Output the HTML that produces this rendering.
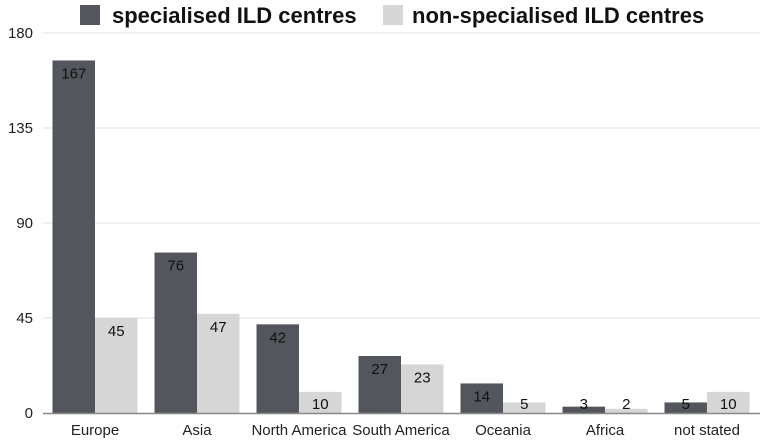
<!DOCTYPE html>
<html><head><meta charset="utf-8"><style>
body{margin:0;background:#fff;font-family:"Liberation Sans",Arial,sans-serif}
svg text{font-family:"Liberation Sans",Arial,sans-serif}
</style></head><body>
<svg width="767" height="441" viewBox="0 0 767 441">
<g id="legend">
<rect x="80" y="5" width="20" height="20" fill="#53565c"/>
<text x="112" y="23" font-size="22" font-weight="bold" fill="#111">specialised ILD centres</text>
<rect x="383" y="5" width="20" height="20" fill="#d6d6d6"/>
<text x="412" y="23" font-size="22" font-weight="bold" fill="#111">non-specialised ILD centres</text>
</g>
<g id="grid"></g><g id="bars"></g><g id="xlabels"></g>
</svg>
<script>
const categories=["Europe","Asia","North America","South America","Oceania","Africa","not stated"];
const specialised=[167,76,42,27,14,3,5];
const nonSpecialised=[45,47,10,23,5,2,10];
const yTicks=[0,45,90,135,180];
const NS="http://www.w3.org/2000/svg";
const plotLeft=44,plotRight=758,plotTop=33,plotBottom=413,yMax=180;
const step=(plotRight-plotLeft)/categories.length;
const yScale=v=>plotBottom-v/yMax*(plotBottom-plotTop);
const xc=i=>plotLeft+step*(i+0.5);
function mk(tag,attrs,parent,text){const e=document.createElementNS(NS,tag);for(const k in attrs)e.setAttribute(k,attrs[k]);if(text!==undefined)e.textContent=text;document.getElementById(parent).appendChild(e);return e;}
yTicks.forEach(t=>{
 if(t>0){const l=mk('line',{x1:43,x2:760,y1:yScale(t),y2:yScale(t),stroke:'#e2e2e2','stroke-width':1},'grid');
 
 }
 const tx=mk('text',{x:33,y:yScale(t)+5,'text-anchor':'end','font-size':15,fill:'#222'},'grid',String(t));
 
 
});
const bw=42.5;
categories.forEach((c,i)=>{
 [[specialised[i],'#53565c',-bw,'specialised'],[nonSpecialised[i],'#d6d6d6',0,'non-specialised']].forEach(([v,col,off,nm])=>{
  const r=mk('rect',{x:xc(i)+off,y:yScale(v),width:bw,height:plotBottom-yScale(v),fill:col},'bars');
  
  
  const ly=Math.min(yScale(v)+18,409);
  const t=mk('text',{x:xc(i)+off+bw/2,y:ly,'text-anchor':'middle','font-size':15,fill:'#111'},'bars',String(v));
  
  
 });
 const xl=mk('text',{x:xc(i),y:435,'text-anchor':'middle','font-size':15,fill:'#222'},'xlabels',c);
 
 
});
const ax=mk('line',{x1:43,x2:760,y1:plotBottom+0.5,y2:plotBottom+0.5,stroke:'#888','stroke-width':1.5},'xlabels');


</script>
</body></html>
